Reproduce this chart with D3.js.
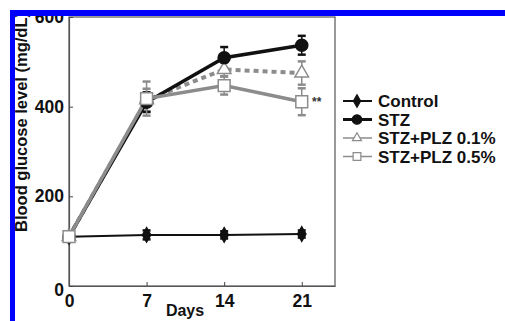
<!DOCTYPE html>
<html>
<head>
<meta charset="utf-8">
<script src="https://cdn.jsdelivr.net/npm/d3@7"></script>
<style>
  body { margin: 0; background: #fff; }
  text { font-family: "Liberation Sans", Arial, sans-serif; font-weight: bold; }
</style>
</head>
<body>
<script>
// data
var days = [0, 7, 14, 21];
var yTicks = [0, 200, 400, 600];
var control = [110, 114, 114, 116];
var controlErr = [6, 10, 8, 8];
var stz = [110, 410, 509, 537];
var stzErr = [5, 22, 24, 21];
var plz01 = [110, 415, 483, 475];
var plz01Err = [5, 25, 15, 26];
var plz05 = [110, 418, 447, 411];
var plz05Err = [5, 38, 20, 30];
var seriesNames = ["Control", "STZ", "STZ+PLZ 0.1%", "STZ+PLZ 0.5%"];

var svgWidth = 505, svgHeight = 321;
var gray = "#8c8c8c";

var svg = d3.select("body").append("svg")
    .attr("width", svgWidth)
    .attr("height", svgHeight);

var x = d3.scaleLinear().domain([0, 24]).range([69, 335]);
var y = d3.scaleLinear().domain([0, 600]).range([286, 17]);

// frame box
svg.append("rect")
    .attr("x", x(0)).attr("y", y(600))
    .attr("width", x(24) - x(0)).attr("height", y(0) - y(600))
    .attr("fill", "none").attr("stroke", "#555").attr("stroke-width", 1.2);

// axes (ticks point inward)
var xAxis = svg.append("g")
    .attr("transform", `translate(0,${y(0)})`)
    .call(d3.axisBottom(x).tickValues(days).tickSizeInner(-4).tickSizeOuter(0).tickPadding(9));
var yAxis = svg.append("g")
    .attr("transform", `translate(${x(0)},0)`)
    .call(d3.axisLeft(y).tickValues(yTicks).tickSizeInner(-4).tickSizeOuter(0).tickPadding(5));
[xAxis, yAxis].forEach(function(a) {
  a.select(".domain").attr("stroke", "#555").attr("stroke-width", 1.2);
  a.selectAll(".tick line").attr("stroke", "#444");
  a.selectAll(".tick text").attr("font-size", 17.5).attr("fill", "#111")
    .style("font-family", "Liberation Sans, Arial, sans-serif").style("font-weight", "bold");
});
yAxis.selectAll(".tick").filter(d => d === 0).select("text").attr("dy", "0.55em");

svg.append("text")
    .attr("x", 185).attr("y", 316)
    .attr("text-anchor", "middle").attr("font-size", 16).attr("fill", "#111")
    .text("Days");

svg.append("text")
    .attr("transform", "translate(27,232) rotate(-90)")
    .attr("font-size", 16.5).attr("fill", "#111")
    .text("Blood glucose level (mg/dL)");

var line = d3.line().x((d, i) => x(days[i])).y(d => y(d));

function errorBars(vals, errs, color, w) {
  var g = svg.append("g").attr("stroke", color).attr("stroke-width", w);
  vals.forEach(function(v, i) {
    var cx = x(days[i]);
    g.append("line").attr("x1", cx).attr("x2", cx).attr("y1", y(v - errs[i])).attr("y2", y(v + errs[i]));
    g.append("line").attr("x1", cx - 4).attr("x2", cx + 4).attr("y1", y(v + errs[i])).attr("y2", y(v + errs[i])).attr("stroke-width", 2.5);
    g.append("line").attr("x1", cx - 4).attr("x2", cx + 4).attr("y1", y(v - errs[i])).attr("y2", y(v - errs[i])).attr("stroke-width", 2.5);
  });
}

var series = [
  { vals: control, errs: controlErr, color: "#111", width: 2, dash: null, sym: d3.symbolDiamond, size: 60, fill: "#111", ew: 2 },
  { vals: plz01, errs: plz01Err, color: gray, width: 4, dash: "5,4", sym: d3.symbolTriangle, size: 80, fill: "#fff", ew: 1.5 },
  { vals: stz, errs: stzErr, color: "#111", width: 3.5, dash: null, sym: d3.symbolCircle, size: 115, fill: "#111", ew: 1.5 },
  { vals: plz05, errs: plz05Err, color: gray, width: 3.5, dash: null, sym: d3.symbolSquare, size: 140, fill: "#fff", ew: 1.5 }
];

series.forEach(function(s) {
  errorBars(s.vals, s.errs, s.color, s.ew);
});
series.forEach(function(s) {
  svg.append("path")
      .attr("d", line(s.vals))
      .attr("fill", "none")
      .attr("stroke", s.color)
      .attr("stroke-width", s.width)
      .attr("stroke-dasharray", s.dash);
});
series.forEach(function(s) {
  svg.append("g").selectAll("path").data(s.vals).join("path")
      .attr("transform", (d, i) => `translate(${x(days[i])},${y(d)})`)
      .attr("d", d3.symbol().type(s.sym).size(s.size))
      .attr("fill", s.fill)
      .attr("stroke", s.color)
      .attr("stroke-width", 1.5);
});

svg.append("text")
    .attr("x", 312).attr("y", 106)
    .attr("font-size", 12).attr("fill", "#333")
    .text("**");

// legend
var legendOrder = [0, 2, 1, 3];
var legendWidths = [2, 3, 1.5, 1.5];
var legendSizes = [45, 70, 35, 60];
legendOrder.forEach(function(si, row) {
  var s = series[si];
  var ly = 101 + row * 18.5;
  svg.append("line")
      .attr("x1", 343).attr("x2", 372).attr("y1", ly).attr("y2", ly)
      .attr("stroke", s.color).attr("stroke-width", legendWidths[row]);
  svg.append("path")
      .attr("transform", `translate(357,${ly})`)
      .attr("d", d3.symbol().type(s.sym).size(legendSizes[row]))
      .attr("fill", s.fill).attr("stroke", s.color).attr("stroke-width", 1.2);
  svg.append("text")
      .attr("x", 378).attr("y", ly + 6)
      .attr("font-size", 17).attr("fill", "#111")
      .text(seriesNames[row]);
});

// blue border
svg.append("rect").attr("x", 10).attr("y", 10).attr("width", 5).attr("height", svgHeight - 10).attr("fill", "#0000ff");
svg.append("rect").attr("x", 10).attr("y", 10).attr("width", svgWidth - 10).attr("height", 6).attr("fill", "#0000ff");
</script>
</body>
</html>
